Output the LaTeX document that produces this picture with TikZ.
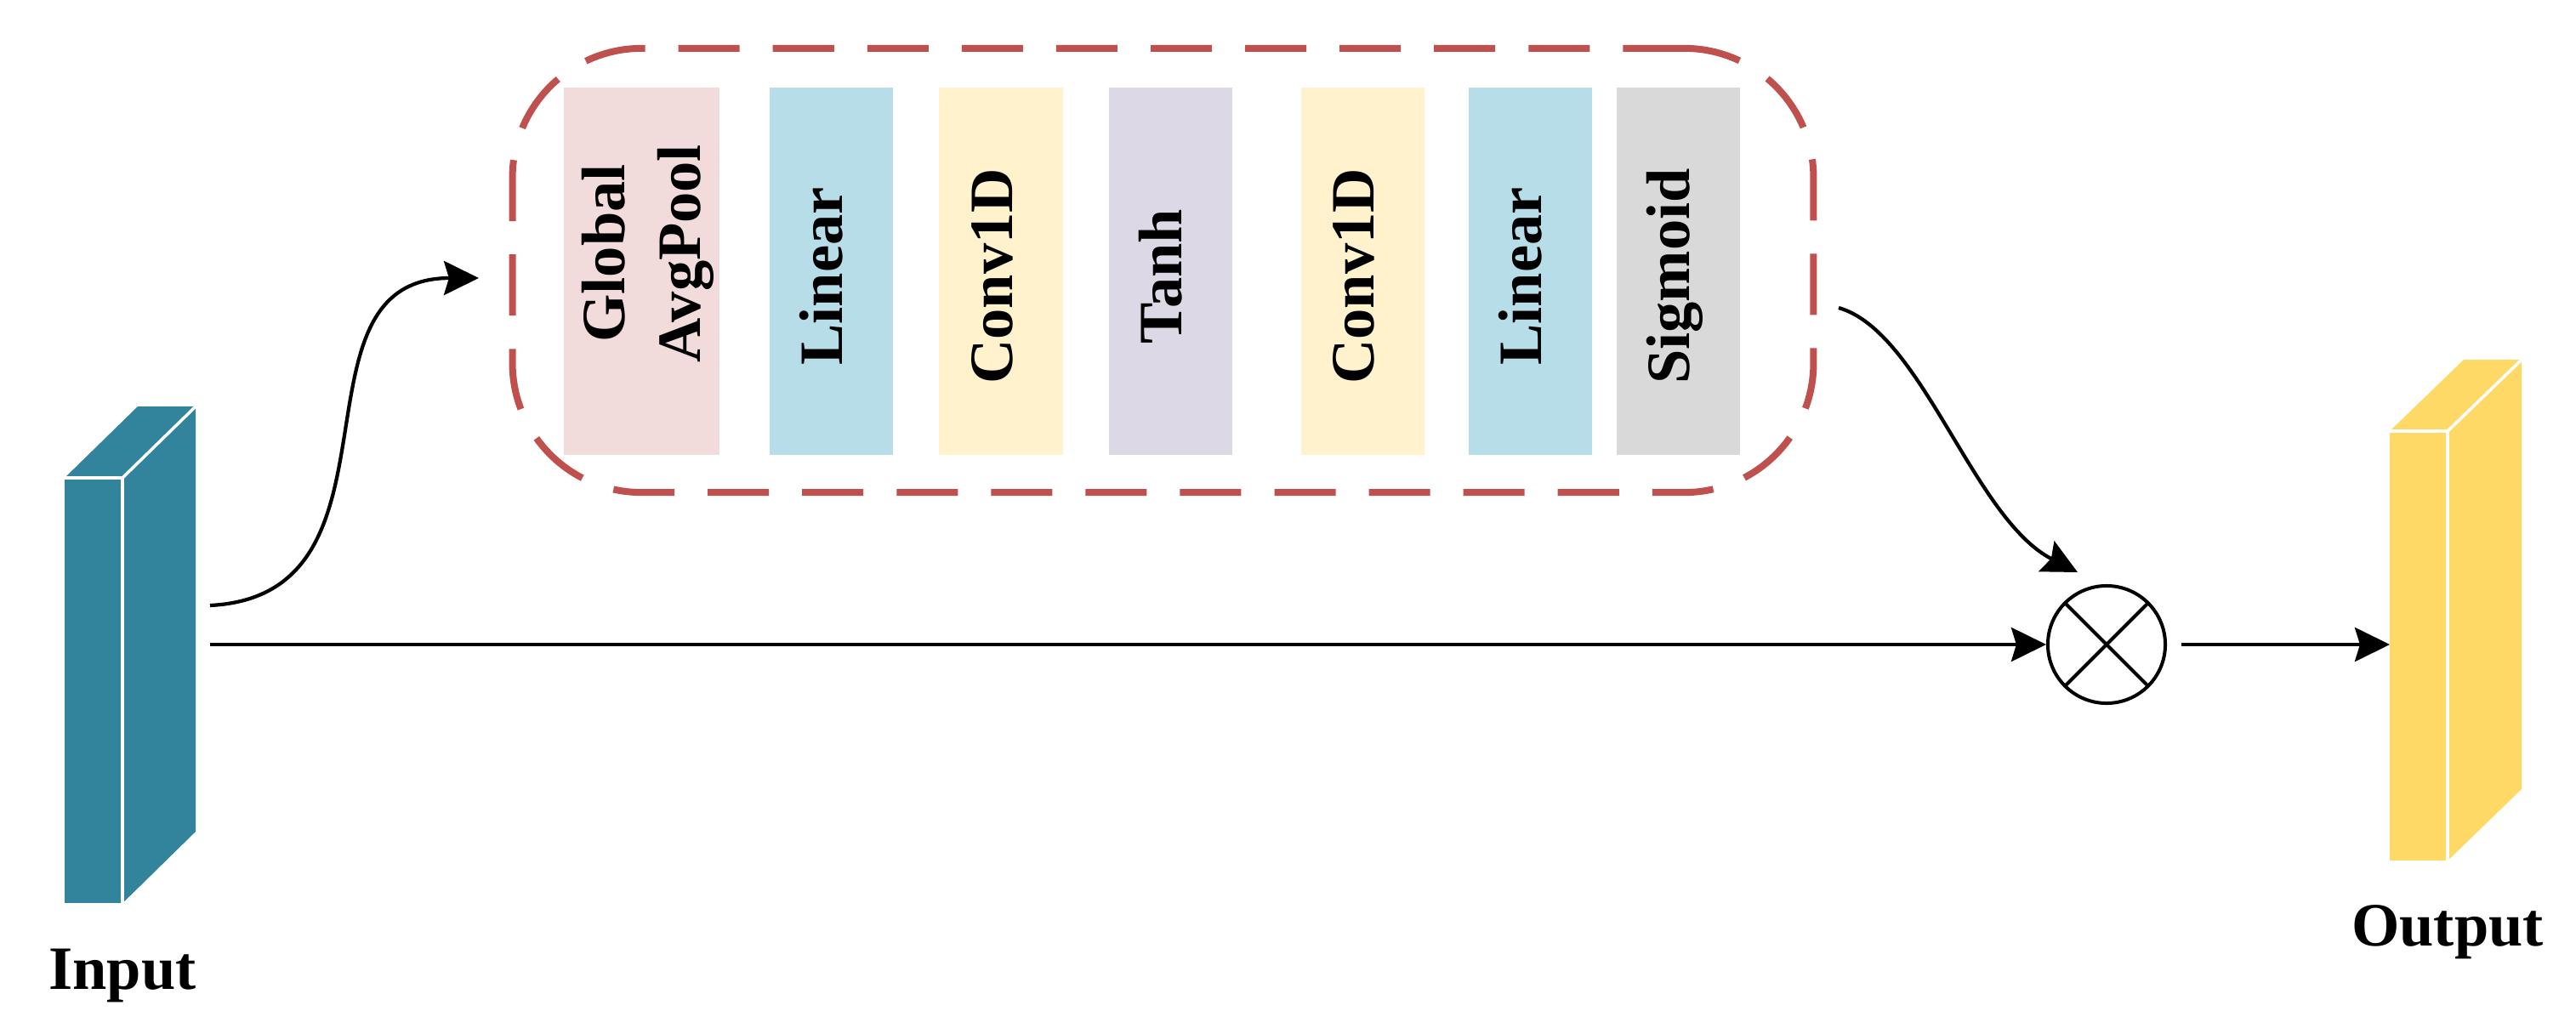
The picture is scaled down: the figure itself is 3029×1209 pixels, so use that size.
\documentclass[tikz,border=0pt]{standalone}
\usepackage{fontspec}
\setmainfont{Liberation Serif}
\usetikzlibrary{arrows.meta,calc}
\definecolor{teal3d}{HTML}{31849B}
\definecolor{gold3d}{HTML}{FFD966}
\definecolor{pinkb}{HTML}{F2DCDB}
\definecolor{blueb}{HTML}{B7DEE8}
\definecolor{yellowb}{HTML}{FFF2CC}
\definecolor{purpleb}{HTML}{DDD8E6}
\definecolor{greyb}{HTML}{D9D9D9}
\definecolor{dashred}{HTML}{C0504D}
\tikzset{
 blk/.style={inner sep=0pt, outer sep=0pt, minimum height=4.32cm, minimum width=1.45cm},
 lbl/.style={rotate=90, inner sep=0pt, font=\fontsize{20.6}{25.3}\selectfont\bfseries, text height=14.4pt, text depth=7pt},
 lbltwo/.style={rotate=90, inner sep=0pt, align=center, font=\fontsize{20.6}{25.3}\selectfont\bfseries},
 arr/.style={line width=1.2pt, -{Stealth[length=0.41cm,width=0.40cm,inset=0.06cm]}},
 frontface/.style={inner sep=0pt, outer sep=0pt, minimum width=0.68cm},
 edgew/.style={white, line width=1pt},
 iolabel/.style={font=\fontsize{20.6}{25.3}\selectfont\bfseries, inner sep=0pt},
}
\begin{document}
\begin{tikzpicture}[x=0.01cm,y=-0.01cm]
\useasboundingbox (0,0) rectangle (3029,1209);

% dashed module frame
\node[draw=dashred, line width=0.08cm, dash pattern=on 0.72cm off 0.39cm,
      rounded corners=1.52cm, minimum width=15.29cm, minimum height=5.22cm,
      inner sep=0pt, outer sep=0pt] (se) at (1367.5,318) {};

% blocks
\node[blk, fill=pinkb, minimum width=1.83cm] (b1) at (754.5,319) {};
\node[blk, fill=blueb]   (b2) at (977.5,319) {};
\node[blk, fill=yellowb] (b3) at (1177,319) {};
\node[blk, fill=purpleb] (b4) at (1376.5,319) {};
\node[blk, fill=yellowb] (b5) at (1602.5,319) {};
\node[blk, fill=blueb]   (b6) at (1799.5,319) {};
\node[blk, fill=greyb]   (b7) at (1973.5,319) {};

% labels
\node[lbltwo] (t1) at ($(b1.center)+(7.5,-21)$) {Global\\AvgPool};
\node[lbl] (t2) at ($(b2.center)+(0,6)$) {Linear};
\node[lbl] (t3) at ($(b3.center)+(0,6)$) {Conv1D};
\node[lbl] (t4) at ($(b4.center)+(0,6)$) {Tanh};
\node[lbl] (t5) at ($(b5.center)+(0,6)$) {Conv1D};
\node[lbl] (t6) at ($(b6.center)+(0,6)$) {Linear};
\node[lbl] (t7) at ($(b7.center)+(0,6)$) {Sigmoid};

% input tensor
\node[frontface, fill=teal3d, minimum height=5cm, anchor=north west] (in) at (76,562) {};
\fill[teal3d] (in.north east) -- ++(86,-84) -- ++(0,500) -- (in.south east) -- cycle;
\fill[teal3d] (in.north west) -- ++(86,-84) -- ++(68,0) -- (in.north east) -- cycle;
\draw[edgew] (in.north west) -- (in.north east) -- (in.south east);
\draw[edgew] (in.north east) -- ++(86,-84);
\node[iolabel, anchor=base] (inlbl) at (144,1163) {Input};

% output tensor
\node[frontface, fill=gold3d, minimum height=5.05cm, anchor=north west] (out) at (2810,507) {};
\fill[gold3d] (out.north east) -- ++(87,-84) -- ++(0,505) -- (out.south east) -- cycle;
\fill[gold3d] (out.north west) -- ++(87,-84) -- ++(68,0) -- (out.north east) -- cycle;
\draw[edgew] (out.north west) -- (out.north east) -- (out.south east);
\draw[edgew] (out.north east) -- ++(87,-84);
\node[iolabel, anchor=base] (outlbl) at (2878,1112) {Output};

% multiplication
\node[circle, draw, line width=0.04cm, minimum size=1.38cm, inner sep=0pt] (mul) at (2477,758) {};
\draw[line width=0.04cm] (mul.45) -- (mul.225) (mul.135) -- (mul.315);

% connectors
\coordinate (inA) at (247,758);
\coordinate (inB) at (247,712);
\coordinate (seIn) at (563,327);
\coordinate (seOut) at (2162,362);
\coordinate (mulIn) at (2443,673);
\draw[arr] (inA) -- (mul.west);
\draw[arr] (inB) .. controls (490,700) and (330,327) .. (seIn);
\draw[arr] (seOut) .. controls (2260,390) and (2320,610) .. (mulIn);
\draw[arr] ([xshift=0.17cm]mul.east) -- (mul.east -| out.west);
\end{tikzpicture}
\end{document}
